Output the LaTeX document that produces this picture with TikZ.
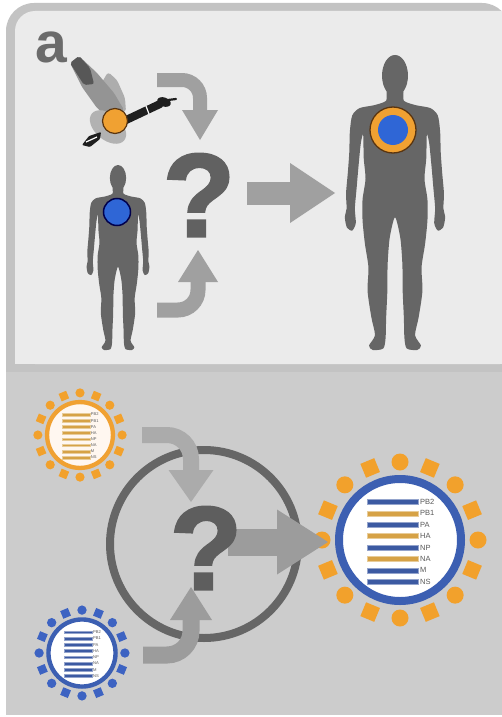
\documentclass[tikz,border=0pt]{standalone}
\usepackage{fontspec}
\setmainfont{Liberation Sans}
\newfontfamily\qfont[FakeBold=2.2]{Liberation Sans Bold}
\usetikzlibrary{arrows.meta}

\definecolor{panelA}{HTML}{EBEBEB}
\definecolor{frameA}{HTML}{C3C3C3}
\definecolor{panelB}{HTML}{CCCCCC}
\definecolor{arrowA}{HTML}{A0A0A0}
\definecolor{arrowB}{HTML}{9C9C9C}
\definecolor{figgray}{HTML}{666666}
\definecolor{qgray}{HTML}{616161}
\definecolor{fluorange}{HTML}{F0A132}
\definecolor{spikeorange}{HTML}{F2A12C}
\definecolor{flublue}{HTML}{3C5FB2}
\definecolor{spikeblue}{HTML}{3D63C2}
\definecolor{segorange}{HTML}{D6A246}
\definecolor{segblue}{HTML}{3C5AA2}
\definecolor{ringedge}{HTML}{5A3510}
\definecolor{cellblue}{HTML}{2F66D6}

\tikzset{
  bigarrow/.style n args={3}{line width=#1pt, -{Triangle[length=#2pt,width=#3pt,line width=0pt]}},
  qmark/.style={inner sep=0pt, text=qgray, font=\qfont\fontsize{118}{118}\selectfont},
  seglabel/.style={anchor=west, inner sep=0pt, text=black!65, transform shape,
                   font=\fontsize{7.5}{8}\selectfont},
  person/.pic={
    \fill[figgray] (0,7) ellipse[x radius=4.4, y radius=7];
    \fill[figgray] plot[smooth cycle, tension=0.45] coordinates {
      (2.6,12) (3.0,15.5) (7,17) (12,18) (14.5,20.5) (15.3,26) (15.5,33) (16,40)
      (16.6,47) (16.4,52) (17,55) (16.3,58.5) (14.5,59.5) (13.3,57) (13.6,52)
      (13,45) (12.4,38) (11.6,30) (10.8,27) (10.6,35) (10,42) (11,49) (11,56)
      (10.2,64) (9,72) (9.3,80) (8,89) (6.8,95) (8.8,98.5) (7.5,100) (4,99.5)
      (3.2,96) (3,89) (2.6,80) (2.5,71) (1.8,62) (0,55)
      (-1.8,62) (-2.5,71) (-2.6,80) (-3,89) (-3.2,96) (-4,99.5) (-7.5,100)
      (-8.8,98.5) (-6.8,95) (-8,89) (-9.3,80) (-9,72) (-10.2,64) (-11,56)
      (-11,49) (-10,42) (-10.6,35) (-10.8,27) (-11.6,30) (-12.4,38) (-13,45)
      (-13.6,52) (-13.3,57) (-14.5,59.5) (-16.3,58.5) (-17,55) (-16.4,52)
      (-16.6,47) (-16,40) (-15.5,33) (-15.3,26) (-14.5,20.5) (-12,18) (-7,17)
      (-3.0,15.5) (-2.6,12)};
  }
}

% #1 centre, #2 scale, #3 envelope colour, #4 interior, #5 spike colour,
% #6 segment list label/colour
\newcommand\fluvirus[6]{%
  \begin{scope}[shift={#1}, scale=#2]
    \foreach \i in {0,...,15} {
      \pgfmathsetmacro\ang{-90+22.5*\i}
      \ifodd\i
        \fill[#5, rotate=\ang] (78,0) ++(-7.5,-7.5) rectangle ++(15,15);
      \else
        \fill[#5] (\ang:78) circle[radius=8.5];
      \fi
    }
    \draw[#3, line width=8pt*#2, fill=#4] (0,0) circle[radius=61];
    \foreach \lbl/\col [count=\k from 0] in {#6} {
      \filldraw[fill=\col, draw=\col!55!white, line width=0.7pt*#2]
        (-33,-40.5+11.4*\k) rectangle (18,-35.5+11.4*\k);
      \node[seglabel] at (20,-38+11.4*\k) {\lbl};
    }
  \end{scope}%
}

\begin{document}
\begin{tikzpicture}[x=1pt, y=-1pt]
  \useasboundingbox (0,0) rectangle (502,717);
  \clip (0,0) rectangle (502,717);
  \fill[white] (0,0) rectangle (502,717);

  % ---------- panel a ----------
  \fill[frameA, rounded corners=28] (6,3) rectangle (510,372);
  \fill[frameA] (6,200) rectangle (510,372);
  \fill[panelA, rounded corners=20] (15,11) rectangle (520,364);
  \fill[panelA] (15,200) rectangle (520,364);

  \node[inner sep=0pt, text=black!58, font=\bfseries\fontsize{57}{57}\selectfont]
    (lbl) at (51,47) {a};

  % goose in flight
  \fill[black!32, rounded corners=3] (101,84) -- (108,72) -- (117,80) -- (125,98)
        -- (126,112) -- (112,110) -- cycle;
  \fill[black!42, rounded corners=2] (70,63) -- (79,56) -- (97,73) -- (114,93)
        -- (124,110) -- (114,122) -- (97,108) -- (82,87) -- cycle;
  \fill[black!66, rounded corners=2] (70,63) -- (79,56) -- (90,68) -- (94,84)
        -- (84,85) -- (77,74) -- cycle;
  \fill[black!30] (108,127) ellipse[x radius=21, y radius=13, rotate=-40];
  \fill[black!88, rounded corners=1] (82,145) -- (89,136) -- (101,132) -- (100,139)
        -- (90,147) -- cycle;
  \draw[white, line width=1.2pt] (86,142) -- (97,137);
  \draw[black!88, line width=8pt, line cap=round] (124,121) -- (160,104);
  \fill[black!88, rotate around={-20:(164,102)}] (164,102) ellipse[x radius=7, y radius=4.5];
  \draw[black!88, line width=2.2pt, line cap=round] (168,100) -- (176,99);
  \draw[white, line width=1.2pt] (146,106) -- (149,114);
  \filldraw[fill=fluorange, draw=ringedge, line width=1.2pt] (115,121) circle[radius=12.5];

  % people
  \pic[scale=1.85] at (118,165) {person};
  \filldraw[fill=cellblue, draw=blue!30!black, line width=1.5pt]
    (117,212) circle[radius=13.5];
  \pic[scale=2.95] at (395,55) {person};
  \filldraw[fill=fluorange, draw=ringedge, line width=1.3pt] (393,130) circle[radius=23];
  \fill[cellblue] (393,130) circle[radius=15];

  % question mark and arrows of panel a
  \node[qmark] (qa) at (199,195) {?};
  \coordinate (birdIn) at (157,80);
  \coordinate (birdBend) at (200,80);
  \coordinate (birdTip) at (200,140);
  \coordinate (humIn) at (157,310);
  \coordinate (humBend) at (198,310);
  \coordinate (humTip) at (198,250);
  \coordinate (outA) at (247,193);
  \coordinate (outATip) at (335,193);
  \draw[arrowA, bigarrow={14}{30}{36}, rounded corners=18] (birdIn) -- (birdBend) -- (birdTip);
  \draw[arrowA, bigarrow={15}{32}{40}, rounded corners=20] (humIn) -- (humBend) -- (humTip);
  \draw[arrowA, bigarrow={23}{45}{60}] (outA) -- (outATip);

  % ---------- lower panel ----------
  \fill[panelB] (6,372) rectangle (510,715);

  \draw[black!60, line width=8pt] (204,544) circle[radius=94];

  \fluvirus{(80,435)}{0.54}{fluorange}{orange!6!white}{spikeorange}
    {PB2/segorange,PB1/segorange,PA/segorange,HA/segorange,NP/segorange,NA/segorange,M/segorange,NS/segorange}
  \fluvirus{(82,653)}{0.55}{flublue}{white}{spikeblue}
    {PB2/segblue,PB1/segblue,PA/segblue,HA/segblue,NP/segblue,NA/segblue,M/segblue,NS/segblue}
  \fluvirus{(400,540)}{1}{flublue}{white}{spikeorange}
    {PB2/segblue,PB1/segorange,PA/segblue,HA/segorange,NP/segblue,NA/segorange,M/segblue,NS/segblue}

  \coordinate (avIn) at (142,435);
  \coordinate (avBend) at (191,435);
  \coordinate (avTip) at (191,502);
  \coordinate (huIn) at (143,655);
  \coordinate (huBend) at (191,655);
  \coordinate (huTip) at (191,587);
  \coordinate (outB) at (228,542);
  \coordinate (outBTip) at (328,542);
  \draw[arrowB!85!white, bigarrow={16}{32}{45}, rounded corners=24] (avIn) -- (avBend) -- (avTip);
  \draw[arrowB, bigarrow={17}{33}{42}, rounded corners=24] (huIn) -- (huBend) -- (huTip);
  \draw[arrowB, bigarrow={27}{51}{65}] (outB) -- (outBTip);
  \node[qmark, text=black!63] (qb) at (206,548) {?};
\end{tikzpicture}
\end{document}
